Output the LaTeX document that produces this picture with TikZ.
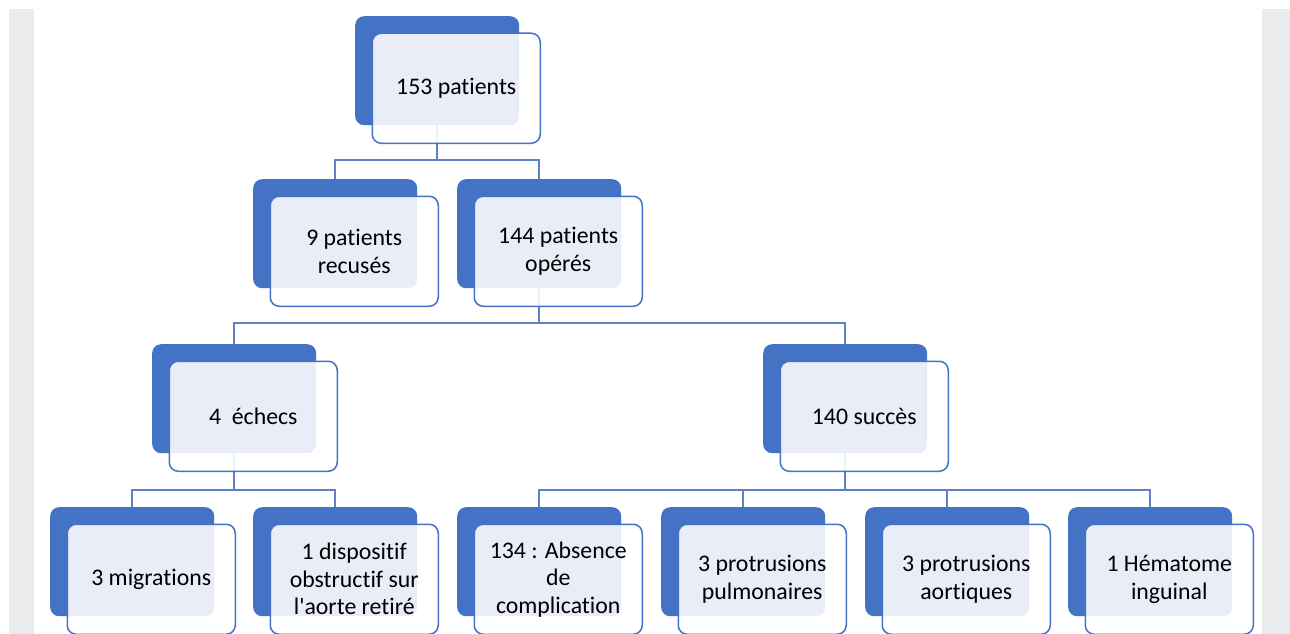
\documentclass[tikz,border=0pt]{standalone}
\usepackage{fontspec}
\setmainfont{Carlito}[Ligatures={TeX,NoCommon}]
\definecolor{bblue}{HTML}{4472C4}
\definecolor{lblue}{HTML}{5F82C6}
\definecolor{greyb}{HTML}{EBEBED}
\begin{document}
\begin{tikzpicture}[x=1pt,y=-1pt,
  back/.style={anchor=north west, fill=bblue, rounded corners=9pt, minimum width=164pt, minimum height=109pt, inner sep=0pt},
  front/.style={anchor=north west, fill=white, fill opacity=0.88, text opacity=1, draw=bblue, line width=1.5pt, rounded corners=9pt, minimum width=168pt, minimum height=110pt, inner sep=0pt, align=center, font=\fontsize{23.8}{27.5}\selectfont, text=black},
  conn/.style={draw=lblue, line width=2pt}]
\fill[white] (0,0) rectangle (1290,634);
\fill[greyb] (9,9) rectangle (1290,634);
\fill[white] (34,9) rectangle (1262,634);
\useasboundingbox (0,0) rectangle (1290,634);
% back boxes
\node[back] (b0) at (355,16) {};
\node[back] (b1) at (253,179) {};
\node[back] (b2) at (457,179) {};
\node[back] (b3) at (152,344) {};
\node[back] (b4) at (763,344) {};
\node[back] (c1) at (50,507) {};
\node[back] (c2) at (253,507) {};
\node[back] (c3) at (457,507) {};
\node[back] (c4) at (661,507) {};
\node[back] (c5) at (865,507) {};
\node[back] (c6) at (1068,507) {};
% buses
\coordinate (bus1) at (0,160);
\coordinate (bus2) at (0,323);
\coordinate (bus3) at (0,490);
\draw[conn] (b0.south) -- (b0.south |- bus1) -| (b1.north);
\draw[conn] (b0.south |- bus1) -| (b2.north);
\draw[conn] (b2.south) -- (b2.south |- bus2) -| (b3.north);
\draw[conn] (b2.south |- bus2) -| (b4.north);
\draw[conn] (b3.south) -- (b3.south |- bus3) -| (c1.north);
\draw[conn] (b3.south |- bus3) -| (c2.north);
\draw[conn] (b4.south) -- (b4.south |- bus3) -| (c3.north);
\draw[conn] (b4.south |- bus3) -| (c4.north);
\draw[conn] (b4.south |- bus3) -| (c5.north);
\draw[conn] (b4.south |- bus3) -| (c6.north);
% front boxes
\node[front] (f0) at (371.5,32.5) {153 patients};
\node[front] (f1) at (269.5,195.5) {9 patients\\recusés};
\node[front] (f2) at (473.5,195.5) {144 patients\\opérés};
\node[front] (f3) at (168.5,360.5) {4\ \ échecs};
\node[front] (f4) at (779.5,360.5) {140 succès};
\node[front] (g1) at (66.5,523.5) {3 migrations};
\node[front] (g2) at (269.5,523.5) {1 dispositif\\obstructif sur\\l\textquotesingle aorte retiré};
\node[front] (g3) at (473.5,523.5) {134 : Absence\\de\\complication};
\node[front] (g4) at (677.5,523.5) {3 protrusions\\pulmonaires};
\node[front] (g5) at (881.5,523.5) {3 protrusions\\aortiques};
\node[front] (g6) at (1084.5,523.5) {1 Hématome\\inguinal};
\end{tikzpicture}
\end{document}
